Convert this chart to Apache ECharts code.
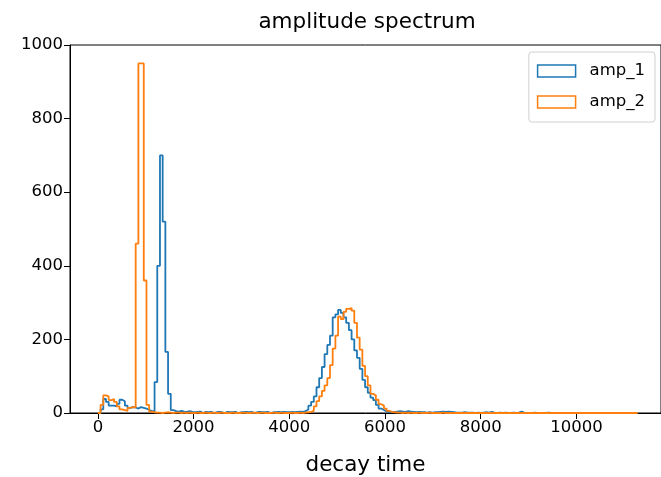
<!DOCTYPE html>
<html>
<head>
<meta charset="utf-8">
<script src="https://cdn.jsdelivr.net/npm/echarts@6/dist/echarts.min.js"></script>
<style>
html, body { margin: 0; padding: 0; background: #fff; }
#chart_box { width: 661px; height: 477px; }
</style>
</head>
<body>
<div id="chart_box"></div>
<script>
// histogram bins: 200 bins starting at 0
var binStart = 0, binWidth = 56.4;

var amp1Counts = [
	0, 10, 38, 30, 20, 20, 18, 25, 36, 32,
	20, 14, 16, 15, 12, 16, 14, 12, 8, 6,
	5, 84, 400, 700, 520, 166, 52, 8, 5, 4,
	6, 4, 3, 5, 3, 2, 3, 4, 0, 3,
	2, 3, 0, 2, 3, 2, 0, 3, 2, 2,
	3, 0, 2, 2, 3, 2, 3, 0, 2, 3,
	2, 2, 3, 0, 2, 2, 3, 2, 3, 2,
	2, 3, 2, 3, 4, 3, 5, 10, 20, 30,
	45, 70, 95, 125, 160, 185, 210, 260, 268, 280,
	272, 260, 245, 225, 200, 170, 150, 120, 90, 70,
	55, 42, 35, 22, 12, 8, 4, 3, 2, 3,
	4, 5, 4, 3, 5, 4, 3, 2, 3, 2,
	2, 1, 2, 1, 2, 2, 3, 4, 3, 4,
	3, 2, 1, 1, 1, 2, 1, 1, 1, 0,
	1, 0, 1, 2, 1, 3, 1, 0, 1, 0,
	1, 0, 0, 1, 0, 1, 4, 1, 0, 0,
	0, 1, 0, 0, 0, 0, 1, 0, 0, 0,
	0, 0, 0, 0, 0, 0, 0, 0, 0, 0,
	0, 0, 0, 0, 0, 0, 0, 0, 0, 0,
	0, 0, 0, 0, 0, 0, 0, 0, 0, 0
];

var amp2Counts = [
	0, 22, 48, 45, 35, 38, 30, 18, 10, 8,
	6, 14, 16, 15, 460, 950, 950, 360, 22, 4,
	2, 1, 1, 0, 1, 2, 1, 0, 1, 1,
	0, 1, 0, 1, 0, 0, 1, 0, 0, 1,
	0, 0, 1, 0, 0, 1, 0, 0, 0, 1,
	0, 0, 0, 1, 0, 0, 0, 1, 0, 0,
	1, 0, 0, 0, 1, 0, 0, 1, 0, 0,
	0, 1, 0, 0, 1, 0, 1, 2, 3, 6,
	18, 32, 45, 60, 75, 95, 130, 175, 210, 262,
	255, 275, 283, 285, 278, 245, 205, 172, 128, 100,
	75, 52, 48, 36, 24, 20, 12, 6, 3, 2,
	1, 1, 0, 1, 0, 1, 0, 0, 1, 0,
	0, 0, 1, 0, 0, 0, 0, 1, 0, 0,
	0, 0, 0, 0, 0, 0, 0, 0, 0, 0,
	0, 0, 0, 0, 0, 0, 0, 0, 0, 0,
	0, 0, 0, 0, 0, 0, 0, 0, 0, 0,
	0, 0, 0, 0, 0, 0, 0, 0, 0, 0,
	0, 0, 0, 0, 0, 0, 0, 0, 0, 0,
	0, 0, 0, 0, 0, 0, 0, 0, 0, 0,
	0, 0, 0, 0, 0, 0, 0, 0, 0, 0
];

var seriesNames = ["amp_1", "amp_2"];
var seriesColors = ["#1f77b4", "#ff7f0e"];
var xTicks = [0, 2000, 4000, 6000, 8000, 10000];

var FONT = "DejaVu Sans";

// step outline like matplotlib histtype='step'
function stepPoints(counts) {
	var pts = [[binStart, 0]];
	for (var i = 0, l = counts.length; i < l; i++) {
		pts.push([binStart + i * binWidth, counts[i]]);
	}
	pts.push([binStart + counts.length * binWidth, 0]);
	return pts;
}

function plainNumber(v) {
	return String(v);
}

var chart = echarts.init(document.getElementById("chart_box"), null, { renderer: "canvas" });

var allCounts = [amp1Counts, amp2Counts];
var series = [];
var legendData = [];
for (var s = 0; s < seriesNames.length; s++) {
	series.push({
		name: seriesNames[s],
		type: "line",
		step: "end",
		showSymbol: false,
		symbol: "none",
		data: stepPoints(allCounts[s]),
		lineStyle: { color: seriesColors[s], width: 1.8 },
		itemStyle: { color: seriesColors[s] },
		z: 2 + s
	});
	legendData.push({
		name: seriesNames[s],
		icon: "rect",
		itemStyle: { color: "#fff", borderColor: seriesColors[s], borderWidth: 1.5 }
	});
}

var option = {
	animation: false,
	backgroundColor: "#fff",
	title: {
		text: "amplitude spectrum",
		left: 367,
		textAlign: "center",
		top: 11,
		padding: 0,
		textStyle: { fontFamily: FONT, fontSize: 21.5, fontWeight: "normal", color: "#000" }
	},
	legend: {
		orient: "vertical",
		right: 6,
		top: 52,
		data: legendData,
		itemWidth: 38,
		itemHeight: 12,
		itemGap: 11,
		padding: [9, 10, 10, 8],
		backgroundColor: "#fff",
		borderColor: "#d0d0d0",
		borderWidth: 1,
		borderRadius: 3,
		textStyle: { fontFamily: FONT, fontSize: 16.5, color: "#000", lineHeight: 20, padding: [0, 0, 0, 9] }
	},
	grid: {
		left: 70,
		top: 45,
		right: 0,
		bottom: 64,
		outerBoundsMode: "none",
		containLabel: false,
		show: true,
		borderColor: "#000",
		borderWidth: 1,
		backgroundColor: "#fff"
	},
	xAxis: {
		type: "value",
		min: -583,
		max: 11768,
		name: "decay time",
		nameLocation: "middle",
		nameGap: 41,
		nameTextStyle: { fontFamily: FONT, fontSize: 21.5, color: "#000" },
		axisLine: { show: true, onZero: false, lineStyle: { color: "#000", width: 1 } },
		axisTick: { show: true, length: 6, customValues: xTicks, lineStyle: { color: "#000" } },
		axisLabel: { customValues: xTicks, margin: 6, fontFamily: FONT, fontSize: 16.5, color: "#000", formatter: plainNumber },
		splitLine: { show: false }
	},
	yAxis: {
		type: "value",
		min: 0,
		max: 1000,
		interval: 200,
		axisLine: { show: true, onZero: false, lineStyle: { color: "#000", width: 1 } },
		axisTick: { show: true, length: 6, lineStyle: { color: "#000" } },
		axisLabel: { margin: 7, fontFamily: FONT, fontSize: 16.5, color: "#000", formatter: plainNumber },
		splitLine: { show: false }
	},
	series: series
};

chart.setOption(option);
</script>
</body>
</html>
